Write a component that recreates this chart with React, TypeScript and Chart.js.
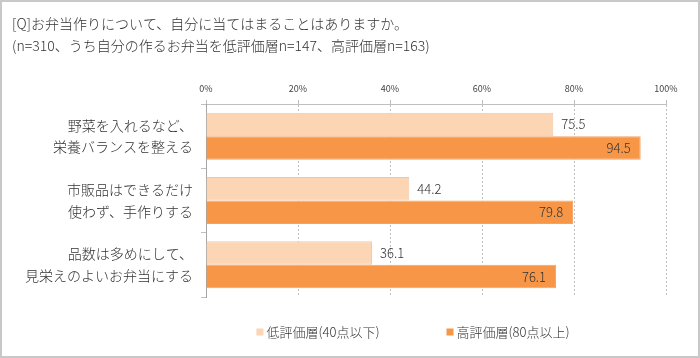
import React, { useEffect, useRef } from 'react';
import { Chart, registerables } from 'chart.js';

Chart.register(...registerables);

const titleLines = [
  '[Q]お弁当作りについて、自分に当てはまることはありますか。',
  '(n=310、うち自分の作るお弁当を低評価層n=147、高評価層n=163)',
];
const categories = [
  ['野菜を入れるなど、', '栄養バランスを整える'],
  ['市販品はできるだけ', '使わず、手作りする'],
  ['品数は多めにして、', '見栄えのよいお弁当にする'],
];
const seriesNames = ['低評価層(40点以下)', '高評価層(80点以上)'];
const lowValues = [75.5, 44.2, 36.1];
const highValues = [94.5, 79.8, 76.1];
const xTickValues = [0, 20, 40, 60, 80, 100];

const FONT = '"Noto Sans CJK JP", "Noto Sans", sans-serif';

export default function App() {
  const ref = useRef<HTMLCanvasElement>(null);

  useEffect(() => {
    const canvas = ref.current;
    if (!canvas) return;

    const framePlugin = {
      id: 'frame',
      beforeDraw(chart: any) {
        const { ctx, width, height } = chart;
        ctx.save();
        ctx.fillStyle = '#ffffff';
        ctx.fillRect(0, 0, width, height);
        ctx.strokeStyle = '#C8C8C8';
        ctx.lineWidth = 2;
        ctx.strokeRect(1, 1, width - 2, height - 2);
        ctx.restore();
      },
    };

    const valueLabels = {
      id: 'valueLabels',
      afterDatasetsDraw(chart: any) {
        const ctx = chart.ctx;
        ctx.save();
        ctx.font = `300 13px ${FONT}`;
        ctx.fillStyle = '#333333';
        ctx.textBaseline = 'middle';
        chart.data.datasets.forEach((ds: any, di: number) => {
          const meta = chart.getDatasetMeta(di);
          meta.data.forEach((bar: any, i: number) => {
            const text = (ds.data[i] as number).toFixed(1);
            if (di === 0) {
              ctx.textAlign = 'left';
              ctx.fillText(text, bar.x + 8, bar.y);
            } else {
              ctx.textAlign = 'right';
              ctx.fillText(text, bar.x - 10, bar.y);
            }
          });
        });
        ctx.restore();
      },
    };

    const customLegend = {
      id: 'customLegend',
      afterDraw(chart: any) {
        const ctx = chart.ctx;
        ctx.save();
        ctx.font = `300 13px ${FONT}`;
        ctx.textBaseline = 'middle';
        ctx.textAlign = 'left';
        const box = 7;
        const gapBox = 3;
        const gapItem = 67;
        const items = chart.data.datasets.map((ds: any) => ({
          label: ds.label,
          color: ds.backgroundColor,
          w: box + gapBox + ctx.measureText(ds.label).width,
        }));
        const total =
          items.reduce((s: number, it: any) => s + it.w, 0) + gapItem * (items.length - 1);
        let x = 413 - total / 2;
        const y = 332;
        items.forEach((it: any) => {
          ctx.fillStyle = it.color;
          ctx.fillRect(x, y - box / 2, box, box);
          ctx.fillStyle = '#333333';
          ctx.fillText(it.label, x + box + gapBox, y);
          x += it.w + gapItem;
        });
        ctx.restore();
      },
    };

    const chart = new Chart(canvas, {
      type: 'bar',
      data: {
        labels: categories,
        datasets: [
          {
            label: seriesNames[0],
            data: lowValues,
            backgroundColor: '#FCD5B5',
            borderColor: '#F2C6A2',
            borderWidth: 1,
            categoryPercentage: 0.73,
            barPercentage: 1,
          },
          {
            label: seriesNames[1],
            data: highValues,
            backgroundColor: '#F79646',
            borderColor: '#F5A264',
            borderWidth: 1,
            categoryPercentage: 0.73,
            barPercentage: 1,
          },
        ],
      },
      options: {
        indexAxis: 'y',
        responsive: false,
        animation: false,
        layout: { padding: { top: 2, left: 12, right: 34, bottom: 61 } },
        plugins: {
          legend: { display: false },
          tooltip: { enabled: false },
          title: {
            display: true,
            text: titleLines,
            align: 'start',
            color: '#333333',
            font: { family: FONT, size: 14, weight: '300', lineHeight: 1.6 },
            padding: { top: 10, bottom: 10 },
          },
        },
        scales: {
          x: {
            position: 'top',
            min: 0,
            max: 100,
            afterBuildTicks: (s: any) => {
              s.ticks = xTickValues.map((v) => ({ value: v }));
            },
            afterFit: (s: any) => {
              s.height = 37.2;
            },
            ticks: {
              callback: (v: any) => v + '%',
              font: { family: FONT, size: 9 },
              color: '#444444',
              padding: 6,
              maxRotation: 0,
            },
            grid: { color: '#BFBFBF', tickLength: 4, drawTicks: true, tickBorderDash: [] },
            border: { display: true, color: '#BFBFBF', dash: [2, 2] },
          },
          y: {
            afterFit: (s: any) => {
              s.width = 194;
            },
            grid: {
              display: true,
              drawOnChartArea: false,
              drawTicks: true,
              tickLength: 5,
              color: '#BFBFBF',
              offset: true,
            },
            border: { display: true, color: '#A6A6A6' },
            ticks: {
              font: { family: FONT, size: 14, weight: '300', lineHeight: 1.55 },
              color: '#333333',
              padding: 8,
            },
          },
        },
      },
      plugins: [framePlugin, valueLabels, customLegend],
    } as any);

    return () => chart.destroy();
  }, []);

  return (
    <div style={{ position: 'absolute', left: 0, top: 0, width: 700, height: 358 }}>
      <canvas ref={ref} width={700} height={358} style={{ display: 'block' }} />
    </div>
  );
}
